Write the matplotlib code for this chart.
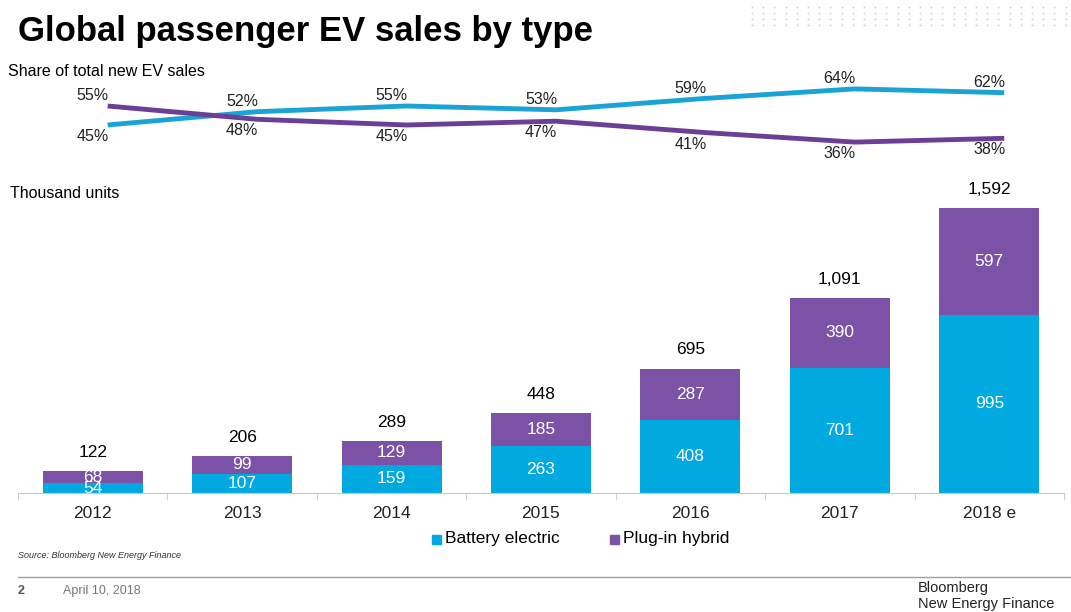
import numpy as np
import matplotlib
matplotlib.use("Agg")
from matplotlib import pyplot as plt
from matplotlib.patches import Rectangle

plt.rcParams['font.family'] = ['Liberation Sans', 'DejaVu Sans']

# data
years = ['2012', '2013', '2014', '2015', '2016', '2017', '2018 e']
battery = [54, 107, 159, 263, 408, 701, 995]
plugin = [68, 99, 129, 185, 287, 390, 597]
totals = [122, 206, 289, 448, 695, 1091, 1592]
share_bev = [45, 52, 55, 53, 59, 64, 62]
share_phev = [55, 48, 45, 47, 41, 36, 38]

c_bev = '#00a9e0'
c_phev = '#7b52a5'
c_bev_line = '#1ba3d6'
c_phev_line = '#6b3f96'

W, H = 1071, 612
fig = plt.figure(figsize=[W / 100, H / 100], dpi=100)

def box(x0, y0, x1, y1):
    # pixel box (top-left origin) -> figure fraction
    return [x0 / W, 1 - y1 / H, (x1 - x0) / W, (y1 - y0) / H]

# Bars
ax = fig.add_axes(box(18, 193, 1064, 493))
x = np.arange(len(years))
ax.bar(x, battery, width=0.67, color=c_bev)
ax.bar(x, plugin, width=0.67, bottom=battery, color=c_phev)
for i in range(len(years)):
    ax.text(x[i], battery[i] / 2, str(battery[i]), ha='center', va='center',
            color='white', fontsize=12.5, clip_on=True)
    ax.text(x[i], battery[i] + plugin[i] / 2, str(plugin[i]), ha='center', va='center',
            color='white', fontsize=12.5)
    ax.annotate(f'{totals[i]:,}', (x[i], totals[i]), xytext=(0, 8),
                textcoords='offset points', ha='center', va='bottom', fontsize=12.5)
ax.set_xlim(-0.5, len(years) - 0.5)
ax.set_ylim(0, 300 / 0.179)
for s in ['top', 'right', 'left']:
    ax.spines[s].set_visible(False)
ax.spines['bottom'].set_color('#c8c8c8')
ax.set_yticks([])
ax.set_xticks(x)
ax.set_xticklabels(years, fontsize=12.5, color='#222222')
ax.tick_params(axis='x', length=0, pad=9)
ax.set_xticks(np.arange(len(years) + 1) - 0.5, minor=True)
ax.tick_params(axis='x', which='minor', length=5, color='#c8c8c8')

# Share lines
ax2 = fig.add_axes(box(18, 77.5, 1064, 153.5))
xl = x + 0.1
ax2.plot(xl, share_bev, color=c_bev_line, lw=3.5, solid_capstyle='butt')
ax2.plot(xl, share_phev, color=c_phev_line, lw=3.5, solid_capstyle='butt')
for i in range(len(years)):
    if share_bev[i] >= share_phev[i]:
        up, dn = share_bev[i], share_phev[i]
    else:
        up, dn = share_phev[i], share_bev[i]
    ax2.annotate(f'{up}%', (x[i], up), xytext=(0, 2), textcoords='offset points',
                 ha='center', va='bottom', fontsize=11.5, color='#222222')
    ax2.annotate(f'{dn}%', (x[i], dn), xytext=(0, -3), textcoords='offset points',
                 ha='center', va='top', fontsize=11.5, color='#222222')
ax2.set_xlim(-0.5, len(years) - 0.5)
ax2.set_ylim(30, 70)
ax2.axis('off')

# Texts
fig.text(18 / W, 1 - 31 / H, 'Global passenger EV sales by type', fontsize=25,
         fontweight='bold', va='center', ha='left')
fig.text(8 / W, 1 - 72 / H, 'Share of total new EV sales', fontsize=11.5, va='center')
fig.text(10 / W, 1 - 193 / H, 'Thousand units', fontsize=11.5, va='center')

# Legend
fig.patches.append(Rectangle((432 / W, 1 - 544 / H), 9 / W, 9 / H, color=c_bev,
                             transform=fig.transFigure))
fig.text(445 / W, 1 - 539 / H, 'Battery electric', fontsize=12.5, va='center')
fig.patches.append(Rectangle((610 / W, 1 - 544 / H), 9 / W, 9 / H, color=c_phev,
                             transform=fig.transFigure))
fig.text(623 / W, 1 - 539 / H, 'Plug-in hybrid', fontsize=12.5, va='center')

# Footer
fig.text(18 / W, 1 - 556 / H, 'Source: Bloomberg New Energy Finance', fontsize=6.5,
         style='italic', va='center', color='#333333')
fig.add_artist(plt.Line2D([18 / W, 1], [1 - 577 / H, 1 - 577 / H], color='#a0a0a0', lw=1))
fig.text(18 / W, 1 - 591 / H, '2', fontsize=9, fontweight='bold', va='center', color='#555555')
fig.text(63 / W, 1 - 591 / H, 'April 10, 2018', fontsize=9, va='center', color='#777777')
fig.text(918 / W, 1 - 588 / H, 'Bloomberg', fontsize=10.5, va='center', color='#222222')
fig.text(918 / W, 1 - 604 / H, 'New Energy Finance', fontsize=10.5, va='center', color='#222222')

# dot pattern, top right
gx, gy = np.meshgrid(np.arange(752, 1071, 11.2), np.arange(7, 27, 6))
fig.add_artist(plt.Line2D((gx.ravel()) / W, 1 - gy.ravel() / H, ls='none', marker='s',
                          ms=1.2, color='#d0d0d0', mew=0))

fig.savefig('out.png', dpi=100)
